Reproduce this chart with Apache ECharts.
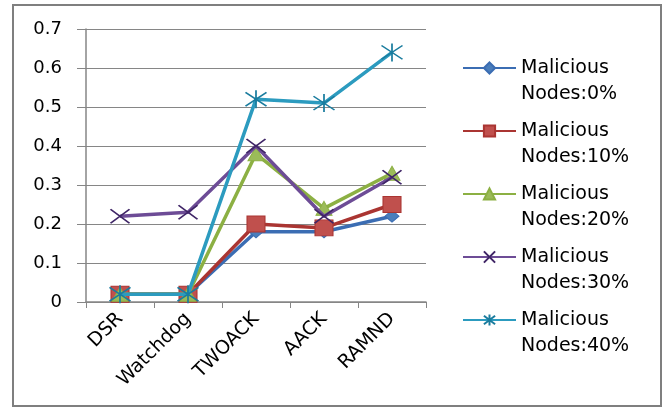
<!DOCTYPE html>
<html>
<head>
<meta charset="utf-8">
<style>
  html, body { margin: 0; padding: 0; background: #fff; }
  #chart { width: 665px; height: 408px; }
</style>
<script src="https://cdn.jsdelivr.net/npm/echarts@6/dist/echarts.min.js"></script>
</head>
<body>
<div id="chart"></div>
<script>
// Detection rate per routing scheme under increasing malicious node ratio
var categories = ['DSR', 'Watchdog', 'TWOACK', 'AACK', 'RAMND'];
var seriesNames = [
  'Malicious\nNodes:0%',
  'Malicious\nNodes:10%',
  'Malicious\nNodes:20%',
  'Malicious\nNodes:30%',
  'Malicious\nNodes:40%'
];
var malicious0  = [0.02, 0.02, 0.18, 0.18, 0.22];
var malicious10 = [0.02, 0.02, 0.20, 0.19, 0.25];
var malicious20 = [0.02, 0.02, 0.38, 0.24, 0.33];
var malicious30 = [0.22, 0.23, 0.40, 0.22, 0.32];
var malicious40 = [0.02, 0.02, 0.52, 0.51, 0.64];
var yTicks = { min: 0, max: 0.7, interval: 0.1 };

var FONT = '"DejaVu Sans", Verdana, sans-serif';

// stroked marker shapes
var crossPath = 'path://M0,0 L20,14 M20,0 L0,14';
var starPath = 'path://M0,2 L20,15 M20,2 L0,15 M10,0 L10,17';

var styles = [
  { data: malicious0,  color: '#3b6db3', symbol: 'diamond', size: [14, 12], fill: '#4a7ebb' },
  { data: malicious10, color: '#aa3532', symbol: 'rect',    size: [18, 16], fill: '#c0504d' },
  { data: malicious20, color: '#8cb043', symbol: 'triangle',size: [16, 14], fill: '#9bbb59' },
  { data: malicious30, color: '#6d4c96', symbol: crossPath, size: [19, 14], fill: 'none', stroke: '#3f2566' },
  { data: malicious40, color: '#2c9bbf', symbol: starPath,  size: [21, 18], fill: 'none', stroke: '#1a7c9e' }
];

var series = styles.map(function (s, i) {
  var itemStyle = s.fill === 'none'
    ? { color: 'none', borderColor: s.stroke, borderWidth: 1.6 }
    : { color: s.fill, borderColor: s.color, borderWidth: 1 };
  return {
    name: seriesNames[i],
    type: 'line',
    data: s.data,
    symbol: s.symbol,
    symbolSize: s.size,
    showAllSymbol: true,
    lineStyle: { color: s.color, width: 3.5 },
    itemStyle: itemStyle,
    emphasis: { disabled: true },
    animation: false,
    z: 2 + i
  };
});

var chart = echarts.init(document.getElementById('chart'), null, { renderer: 'canvas' });
chart.setOption({
  backgroundColor: '#ffffff',
  animation: false,
  color: styles.map(function (s) { return s.color; }),
  grid: { left: 86, right: 239, top: 29, bottom: 106, containLabel: false },
  graphic: [{
    type: 'rect',
    shape: { x: 13, y: 5, width: 648, height: 401 },
    style: { fill: 'none', stroke: '#7f7f7f', lineWidth: 2 },
    silent: true
  }],
  legend: {
    orient: 'vertical',
    left: 462,
    top: 29,
    padding: 0,
    itemWidth: 53,
    itemHeight: 14,
    itemGap: -15,
    // a blank leading line keeps the key icon level with the first text line
    formatter: function (name) { return ' \n' + name; },
    textStyle: { fontFamily: FONT, fontSize: 19, color: '#000', lineHeight: 26 },
    data: seriesNames
  },
  xAxis: {
    type: 'category',
    data: categories,
    boundaryGap: true,
    axisLine: { lineStyle: { color: '#868686', width: 1.5 } },
    axisTick: { show: true, length: 6, lineStyle: { color: '#868686' } },
    axisLabel: { rotate: 45, fontFamily: FONT, fontSize: 19, color: '#000', margin: 14 },
    splitLine: { show: false }
  },
  yAxis: {
    type: 'value',
    min: yTicks.min,
    max: yTicks.max,
    interval: yTicks.interval,
    axisLine: { show: true, lineStyle: { color: '#868686', width: 1.5 } },
    axisTick: { show: true, length: 9, lineStyle: { color: '#868686' } },
    axisLabel: { fontFamily: FONT, fontSize: 18, color: '#000', margin: 24,
      formatter: function (v) { return v === 0 ? '0' : v.toFixed(1); } },
    splitLine: { show: true, lineStyle: { color: '#868686', width: 1 } }
  },
  series: series
});
</script>
</body>
</html>
